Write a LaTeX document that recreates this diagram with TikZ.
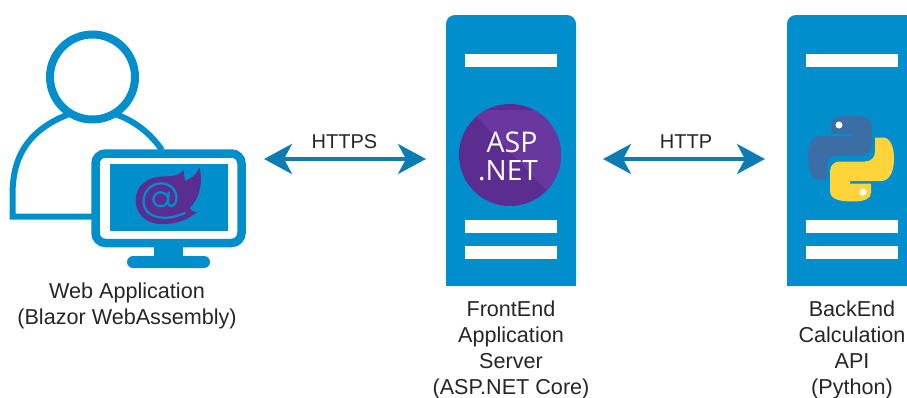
\documentclass[tikz,border=0pt]{standalone}
\usepackage{fontspec}
\setmainfont{Liberation Sans}
\newfontfamily\aspfont{Open Sans}
\usetikzlibrary{arrows.meta}
\definecolor{srv}{HTML}{008FCC}
\definecolor{lnk}{HTML}{0C7CB4}
\definecolor{aspD}{HTML}{5C2D91}
\definecolor{aspL}{HTML}{68379F}
\definecolor{pyB}{HTML}{3B6EA5}
\definecolor{pyY}{HTML}{FFD43B}
\definecolor{txt}{HTML}{262626}
\tikzset{
  boxanchor/.style={inner sep=0pt,outer sep=0pt,minimum width=#1,minimum height=271pt},
  bar/.style={fill=white},
  link/.style={{Stealth[length=28pt,width=30pt,inset=8pt]}-{Stealth[length=28pt,width=30pt,inset=8pt]},draw=lnk,line width=4pt},
  caption/.style={align=center,anchor=north,text=txt,inner sep=0pt,font=\fontsize{21.6}{26}\selectfont},
  linklabel/.style={text=txt,inner sep=0pt,font=\fontsize{20}{24}\selectfont},
  userline/.style={draw=srv,fill=white},
}
\newcommand{\serverbars}[1]{%
  \fill[bar] (#1-46,54) rectangle (#1+46,67);
  \fill[bar] (#1-46,220) rectangle (#1+46,233);
  \fill[bar] (#1-46,246) rectangle (#1+46,259);
}
\newcommand{\serverbody}[1]{%
  \fill[srv] (#1.south west) [rounded corners=9pt] -- (#1.north west) -- (#1.north east) [sharp corners] -- (#1.south east) -- cycle;
}
\begin{document}
\begin{tikzpicture}[x=1pt,y=-1pt]
\useasboundingbox (0,0) rectangle (907,397);
\clip (0,0) rectangle (907,397);
% anchors
\node[boxanchor=237pt,minimum height=236pt] (web) at (127.5,150.5) {};
\node[boxanchor=130pt] (front) at (511,150.5) {};
\node[boxanchor=130pt] (back) at (852,150.5) {};
% user
\draw[srv,line width=6pt] (95,216.5) -- (12.5,216.5) -- (12.5,195) .. controls (12.5,160) and (25,130) .. (72,113);
\draw[srv,line width=6pt] (115,114) .. controls (135,121) and (150,133) .. (162,150);
\draw[userline,line width=8pt] (92.5,77) circle (42.5);
% monitor
\fill[srv] (154,245) rectangle (183,258);
\fill[srv,rounded corners=6pt] (127,256) rectangle (210,268);
\draw[userline,line width=8.5pt,rounded corners=10pt] (95.5,153.5) rectangle (241.5,243);
\fill[srv] (110,164) rectangle (228,231);
% blazor
\begin{scope}[shift={(120,140)},scale=1/3]
  \fill[aspD] (120,110) .. controls (145,108) and (175,112) .. (190,90)
    .. controls (193,102) and (190,112) .. (196,122)
    .. controls (215,118) and (232,100) .. (238,82)
    .. controls (250,125) and (240,175) .. (208,205)
    .. controls (215,212) and (222,218) .. (232,215)
    .. controls (205,240) and (165,254) .. (120,252)
    .. controls (75,250) and (47,220) .. (47,180)
    .. controls (47,140) and (80,112) .. (120,110) -- cycle;
  \draw[srv,line width=2.2pt] (196,218) .. controls (150,240) and (105,238) .. (82,215)
    .. controls (55,185) and (78,130) .. (122,130)
    .. controls (158,130) and (175,160) .. (168,185)
    .. controls (163,200) and (148,202) .. (144,190)
    -- (146,155);
  \draw[srv,line width=2.2pt] (122,178) ellipse (22 and 21);
\end{scope}
% servers
\serverbody{front}
\serverbody{back}
\serverbars{511}
\serverbars{852}
% asp.net
\fill[aspD] (510,155) circle (51);
\begin{scope}
  \clip (510,155) circle (51);
  \fill[aspL] (470,110) -- (560,110) -- (570,215) -- cycle;
\end{scope}
\node[anchor=base,inner sep=0pt,text=white,font=\aspfont\fontsize{28.5}{29}\selectfont] (asp) at (512,152) {ASP};
\node[anchor=base,inner sep=0pt,text=white,font=\aspfont\fontsize{28}{29}\selectfont] (net) at (508,180) {.NET};
% python
\begin{scope}[shift={(851,158.5)}]
  \def\snake{(-2,-43) .. controls (14,-43) and (21,-40) .. (21,-32) -- (21,-13)
    .. controls (21,-7) and (17,-3) .. (11,-3) -- (-14,-3)
    .. controls (-20,-3) and (-24,1) .. (-24,7) -- (-24,21) -- (-32,21)
    .. controls (-39,21) and (-43,12) .. (-43,0)
    .. controls (-43,-14) and (-38,-22.5) .. (-30,-22.5) -- (1,-22.5) -- (1,-25) -- (-20,-25) -- (-20,-34)
    .. controls (-20,-40) and (-14,-43) .. (-2,-43) -- cycle}
  \fill[pyB] \snake;
  \fill[white] (-12,-33.5) circle (3.5);
  \begin{scope}[rotate=180]
    \fill[pyY] \snake;
    \fill[white] (-12,-33.5) circle (3.5);
  \end{scope}
\end{scope}
% connectors
\draw[link] ([shift={(18pt,-8.5pt)}]web.east) -- ([shift={(-20pt,-8.5pt)}]front.west);
\draw[link] ([shift={(27pt,-8.5pt)}]front.east) -- ([shift={(-22pt,-8.5pt)}]back.west);
\node[linklabel] (https) at (344.5,142) {HTTPS};
\node[linklabel] (http) at (686,142) {HTTP};
% captions
\node[caption] (webcap) at (127,283) {Web Application\\(Blazor WebAssembly)};
\node[caption] (frontcap) at (511,301) {FrontEnd\\Application\\Server\\(ASP.NET Core)};
\node[caption] (backcap) at (852,301) {BackEnd\\Calculation\\API\\(Python)};
\end{tikzpicture}
\end{document}
